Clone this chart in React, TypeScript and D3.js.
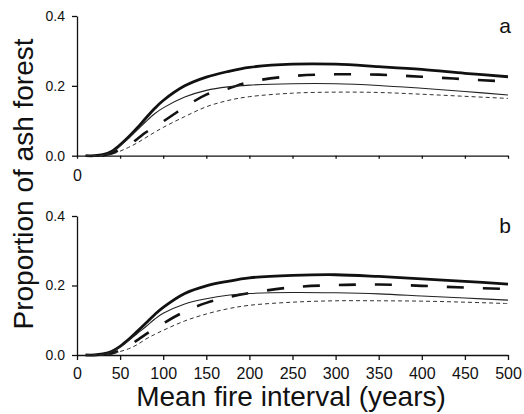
import React, { useEffect, useRef } from 'react';
import * as d3 from 'd3';

// mean fire interval (years)
const years = [10, 20, 30, 40, 50, 60, 70, 80, 90, 100, 125, 150, 175, 200, 250, 300, 350, 400, 450, 500];

// panel a
const aThickSolid = [0, 0, 0.003, 0.012, 0.031, 0.054, 0.08, 0.108, 0.135, 0.158, 0.2, 0.225, 0.241, 0.253, 0.262, 0.262, 0.255, 0.247, 0.236, 0.226];
const aThickDashed = [0, 0, 0.001, 0.006, 0.018, 0.03, 0.048, 0.067, 0.082, 0.098, 0.139, 0.175, 0.192, 0.211, 0.228, 0.233, 0.232, 0.226, 0.219, 0.212];
const aThinSolid = [0, 0, 0.002, 0.01, 0.028, 0.05, 0.074, 0.098, 0.12, 0.137, 0.168, 0.187, 0.197, 0.202, 0.206, 0.206, 0.201, 0.193, 0.184, 0.174];
const aThinDashed = [0, 0, 0.001, 0.004, 0.013, 0.024, 0.037, 0.052, 0.067, 0.081, 0.112, 0.14, 0.158, 0.169, 0.179, 0.182, 0.181, 0.176, 0.17, 0.164];

// panel b
const bThickSolid = [0, 0, 0.003, 0.01, 0.025, 0.045, 0.068, 0.092, 0.116, 0.137, 0.177, 0.199, 0.212, 0.222, 0.229, 0.231, 0.226, 0.219, 0.212, 0.204];
const bThickDashed = [0, 0, 0.001, 0.004, 0.014, 0.026, 0.043, 0.06, 0.076, 0.091, 0.125, 0.15, 0.166, 0.178, 0.195, 0.201, 0.203, 0.199, 0.194, 0.19];
const bThinSolid = [0, 0, 0.002, 0.009, 0.023, 0.042, 0.062, 0.082, 0.103, 0.12, 0.147, 0.162, 0.172, 0.177, 0.18, 0.179, 0.176, 0.17, 0.164, 0.158];
const bThinDashed = [0, 0, 0, 0.003, 0.01, 0.018, 0.03, 0.046, 0.059, 0.071, 0.098, 0.118, 0.133, 0.143, 0.152, 0.156, 0.156, 0.155, 0.152, 0.148];

const xTicks = [0, 50, 100, 150, 200, 250, 300, 350, 400, 450, 500];
const yTicks = [0, 0.2, 0.4];

const FONT = 'Liberation Sans, Arial, Helvetica, sans-serif';

type Style = { width: number; dash: string | null; offset: number; color: string };
const styles: Style[] = [
  { width: 2.8, dash: null, offset: 0, color: '#111' },
  { width: 2.6, dash: '17,19', offset: 20, color: '#111' },
  { width: 1.1, dash: null, offset: 0, color: '#222' },
  { width: 1, dash: '4,3', offset: 0, color: '#333' },
];

export default function App() {
  const ref = useRef<SVGSVGElement>(null);

  useEffect(() => {
    const svg = d3.select(ref.current);
    svg.selectAll('*').remove();

    const x = d3.scaleLinear().domain([0, 500]).range([77, 508]);

    const panels = [
      { label: 'a', top: 16, bottom: 155.7, series: [aThickSolid, aThickDashed, aThinSolid, aThinDashed], full: false },
      { label: 'b', top: 216, bottom: 355, series: [bThickSolid, bThickDashed, bThinSolid, bThinDashed], full: true },
    ];

    panels.forEach(p => {
      const y = d3.scaleLinear().domain([0, 0.4]).range([p.bottom, p.top]);
      const g = svg.append('g');

      // y axis
      const ya = g.append('g')
        .attr('transform', `translate(${x(0)},0)`)
        .call(d3.axisLeft(y).tickValues(yTicks).tickFormat(d3.format('.1f')).tickSize(5).tickSizeOuter(0).tickPadding(7));
      ya.attr('font-family', FONT).attr('font-size', 14);

      // x axis
      const xa = g.append('g')
        .attr('transform', `translate(0,${y(0)})`)
        .call(d3.axisBottom(x).tickValues(xTicks)
          .tickFormat((d: any) => (p.full || d === 0 ? String(d) : ''))
          .tickSize(p.full ? 5 : 3).tickSizeOuter(0).tickPadding(p.full ? 8 : 11));
      xa.attr('font-family', FONT).attr('font-size', 16);

      g.selectAll('.domain, .tick line').attr('stroke', '#111').attr('stroke-width', 1.3);
      g.selectAll('.tick text').attr('fill', '#111');

      const line = d3.line<number>()
        .x((d, i) => x(years[i]))
        .y(d => y(d))
        .curve(d3.curveCatmullRom.alpha(0.5));

      p.series.forEach((s, i) => {
        const st = styles[i];
        const path = g.append('path')
          .attr('d', line(s))
          .attr('fill', 'none')
          .attr('stroke', st.color)
          .attr('stroke-width', st.width);
        if (st.dash) path.attr('stroke-dasharray', st.dash).attr('stroke-dashoffset', st.offset);
      });

      g.append('text')
        .attr('x', 505)
        .attr('y', p.top + 17)
        .attr('text-anchor', 'middle')
        .attr('font-family', FONT)
        .attr('font-size', 21)
        .attr('fill', '#111')
        .text(p.label);
    });

    // axis titles
    svg.append('text')
      .attr('transform', 'translate(33,184) rotate(-90)')
      .attr('text-anchor', 'middle')
      .attr('font-family', FONT)
      .attr('font-size', 28)
      .attr('fill', '#111')
      .text('Proportion of ash forest');

    svg.append('text')
      .attr('x', 291)
      .attr('y', 406)
      .attr('text-anchor', 'middle')
      .attr('font-family', FONT)
      .attr('font-size', 28)
      .attr('fill', '#111')
      .text('Mean fire interval (years)');
  }, []);

  return (
    <svg ref={ref} width={524} height={414}
      style={{ position: 'absolute', left: 0, top: 0, background: '#fff' }} />
  );
}
